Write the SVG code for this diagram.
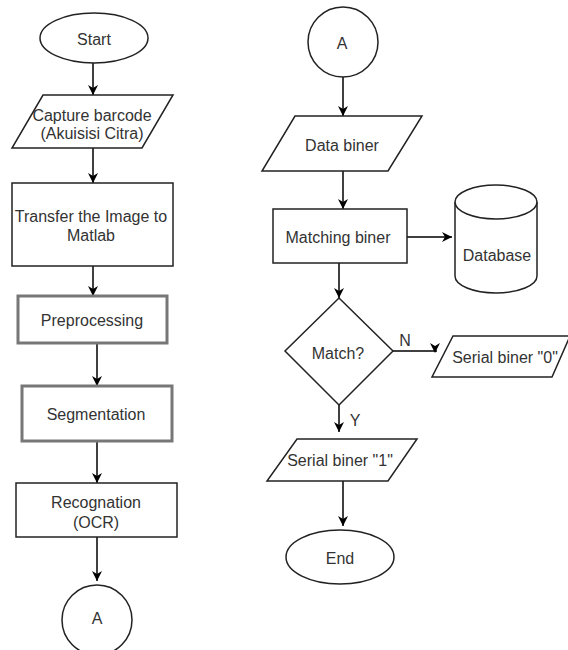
<svg xmlns="http://www.w3.org/2000/svg" width="568" height="650" viewBox="0 0 568 650">
<defs>
<marker id="arr" viewBox="0 0 10 10" refX="10" refY="5" markerWidth="10" markerHeight="10" markerUnits="userSpaceOnUse" orient="auto">
<path d="M0,0 L10,5 L0,10 L3,5 z" fill="#000"/>
</marker>
<style>
.s{fill:#fff;stroke:#222;stroke-width:1.5}
.g{fill:#fff;stroke:#777;stroke-width:3}
.t{font-family:"Liberation Sans",Arial,sans-serif;font-size:16px;fill:#333;text-anchor:middle;dominant-baseline:central}
.c{fill:none;stroke:#000;stroke-width:1.5;marker-end:url(#arr)}
.l{fill:none;stroke:#000;stroke-width:1.5}
</style>
</defs>
<rect width="568" height="650" fill="#fff"/>
<g id="connectors">
<path class="c" d="M93,63 V95"/>
<path class="c" d="M93,148 V183"/>
<path class="c" d="M93,266 V296"/>
<path class="c" d="M97,343 V386"/>
<path class="c" d="M97,441 V483"/>
<path class="c" d="M97,537 V581"/>
<path class="c" d="M343,77 V116"/>
<path class="c" d="M343,171 V209"/>
<path class="c" d="M407,237 H452"/>
<path class="c" d="M339,263 V298"/>
<path class="l" d="M393,351 H437"/>
<path d="M430,343 L435,346 L440,343 L435,353 z" fill="#000"/>
<text class="t" x="405" y="340">N</text>
<path class="c" d="M339,405 V432"/>
<text class="t" x="355" y="420">Y</text>
<path class="c" d="M343,481 V526"/>
</g>
<g id="start">
<ellipse class="s" cx="94" cy="38" rx="54" ry="25"/>
<text class="t" x="94" y="39">Start</text>
</g>
<g id="capture">
<polygon class="s" points="43,95 173,95 142,148 12,148"/>
<text class="t" x="92" y="115">Capture barcode</text>
<text class="t" x="92" y="133">(Akuisisi Citra)</text>
</g>
<g id="transfer">
<rect class="s" x="12" y="183" width="161" height="83"/>
<text class="t" x="91" y="216">Transfer the Image to</text>
<text class="t" x="91" y="235">Matlab</text>
</g>
<g id="preprocessing">
<rect class="g" x="18" y="296" width="149" height="47"/>
<text class="t" x="92" y="320">Preprocessing</text>
</g>
<g id="segmentation">
<rect class="g" x="22" y="386" width="150" height="55"/>
<text class="t" x="96" y="414">Segmentation</text>
</g>
<g id="recognation">
<rect class="s" x="16" y="483" width="161" height="54"/>
<text class="t" x="96" y="502">Recognation</text>
<text class="t" x="96" y="522">(OCR)</text>
</g>
<g id="connectorA1">
<circle class="s" cx="97" cy="620" r="35"/>
<text class="t" x="97" y="618">A</text>
</g>
<g id="connectorA2">
<circle class="s" cx="343" cy="42" r="35"/>
<text class="t" x="342" y="43">A</text>
</g>
<g id="databiner">
<polygon class="s" points="295,116 422,116 388,171 262,171"/>
<text class="t" x="342" y="145">Data biner</text>
</g>
<g id="matching">
<rect class="s" x="273" y="209" width="134" height="54"/>
<text class="t" x="338" y="237">Matching biner</text>
</g>
<g id="database">
<path class="s" d="M455,202 V276 A41,17 0 0 0 537,276 V202"/>
<ellipse class="s" cx="496" cy="202" rx="41" ry="17"/>
<text class="t" x="497" y="255">Database</text>
</g>
<g id="match">
<polygon class="s" points="339,298 393,351 339,405 285,351"/>
<text class="t" x="338" y="353">Match?</text>
</g>
<g id="serial0">
<polygon class="s" points="453,336 570,336 552,377 432,377"/>
<text class="t" x="505" y="357">Serial biner "0"</text>
</g>
<g id="serial1">
<polygon class="s" points="297,439 417,439 388,481 267,481"/>
<text class="t" x="340" y="460">Serial biner "1"</text>
</g>
<g id="end">
<ellipse class="s" cx="340" cy="557" rx="54" ry="27"/>
<text class="t" x="340" y="558">End</text>
</g>
</svg>
